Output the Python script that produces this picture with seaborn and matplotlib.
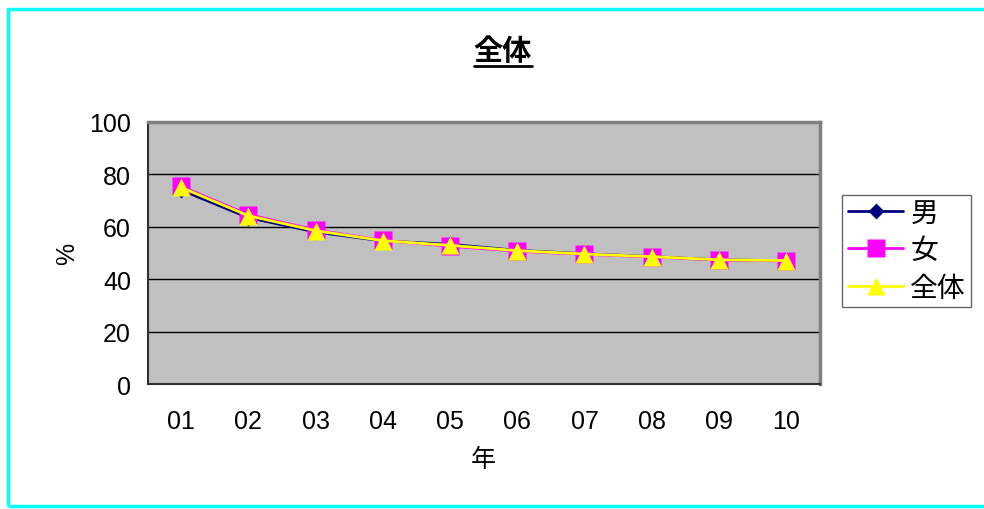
import numpy as np
import pandas as pd
import matplotlib
matplotlib.use("Agg")
import matplotlib.pyplot as plt
from matplotlib.lines import Line2D
from matplotlib.patches import Rectangle
import seaborn as sns

# data
years = ["01", "02", "03", "04", "05", "06", "07", "08", "09", "10"]
men = [74.0, 63.5, 58.0, 54.6, 53.3, 51.0, 49.7, 48.6, 47.4, 47.0]
women = [75.4, 64.6, 58.8, 54.8, 52.6, 50.7, 49.5, 48.5, 47.3, 47.0]
total = [75.0, 64.2, 58.5, 54.7, 52.9, 50.9, 49.6, 48.6, 47.4, 47.1]
series = ["男", "女", "全体"]

df = pd.DataFrame({
    "年": years * 3,
    "値": men + women + total,
    "系列": [s for s in series for _ in years],
})

sns.set_style("white")
plt.rcParams["font.family"] = ["Liberation Sans", "Noto Sans CJK JP", "DejaVu Sans"]
plt.rcParams["text.color"] = "black"
plt.rcParams["xtick.color"] = "black"
plt.rcParams["ytick.color"] = "black"
plt.rcParams["axes.labelcolor"] = "black"

fig = plt.figure(figsize=(9.84, 5.10), dpi=100)
ax = fig.add_axes([0.150, 0.245, 0.683, 0.514])
ax.set_facecolor("#C0C0C0")

palette = {"男": "#000080", "女": "#FF00FF", "全体": "#FFFF00"}
markers = {"男": "D", "女": "s", "全体": "^"}
sizes = {"男": 8.5, "女": 12.5, "全体": 13}

sns.lineplot(data=df, x="年", y="値", hue="系列", style="系列",
             palette=palette, markers=markers, dashes=False,
             hue_order=series, style_order=series,
             lw=2, ms=11, mec="none", sort=False, ax=ax, legend=False)
for ln, s in zip(ax.get_lines(), series):
    ln.set_markersize(sizes[s])

ax.set_ylim(0, 100)
ax.set_yticks(range(0, 101, 20))
ax.set_xlim(-0.5, len(years) - 0.5)
ax.set_xticks(range(len(years)))
ax.set_xticklabels(years)
ax.set_xticks(np.arange(-0.5, len(years), 1.0), minor=True)
ax.tick_params(axis="x", which="major", length=0, labelsize=18, pad=18)
ax.tick_params(axis="x", which="minor", length=7, width=1.2,
               direction="in", color="#404040")
ax.tick_params(axis="y", length=0, labelsize=18, pad=12)
ax.grid(axis="y", color="black", lw=1)
ax.set_axisbelow(True)
for side in ["left", "bottom"]:
    ax.spines[side].set_color("#303030")
    ax.spines[side].set_linewidth(1.5)
for side in ["top", "right"]:
    ax.spines[side].set_color("#808080")
    ax.spines[side].set_linewidth(2.5)

ax.set_xlabel("年", fontsize=18, labelpad=10)
ax.set_ylabel("%", fontsize=18, labelpad=7)

handles = [Line2D([0], [0], color=palette[s], lw=2, marker=markers[s],
                  ms=sizes[s], mec="none") for s in series]
leg = fig.legend(handles, series, loc="upper left", bbox_to_anchor=(0.856, 0.616),
                 fontsize=20, frameon=True, fancybox=False, edgecolor="#404040",
                 handlelength=2.0, handletextpad=0.25, borderpad=0.2,
                 labelspacing=0.42, borderaxespad=0)
leg.get_frame().set_linewidth(1)

title = fig.text(0.511, 0.898, "全体", ha="center", va="center",
                 fontsize=21, fontweight="bold")
fig.canvas.draw()
bb = title.get_window_extent().transformed(fig.transFigure.inverted())
fig.add_artist(Line2D([bb.x0, bb.x1], [bb.y0 - 0.002, bb.y0 - 0.002],
                      color="black", lw=2, transform=fig.transFigure))

fig.add_artist(Rectangle((0.008, 0.005), 1.1, 0.975, fill=False,
                         edgecolor="#00FFFF", lw=2.5, transform=fig.transFigure,
                         clip_on=False))

fig.savefig("out.png", dpi=100)
